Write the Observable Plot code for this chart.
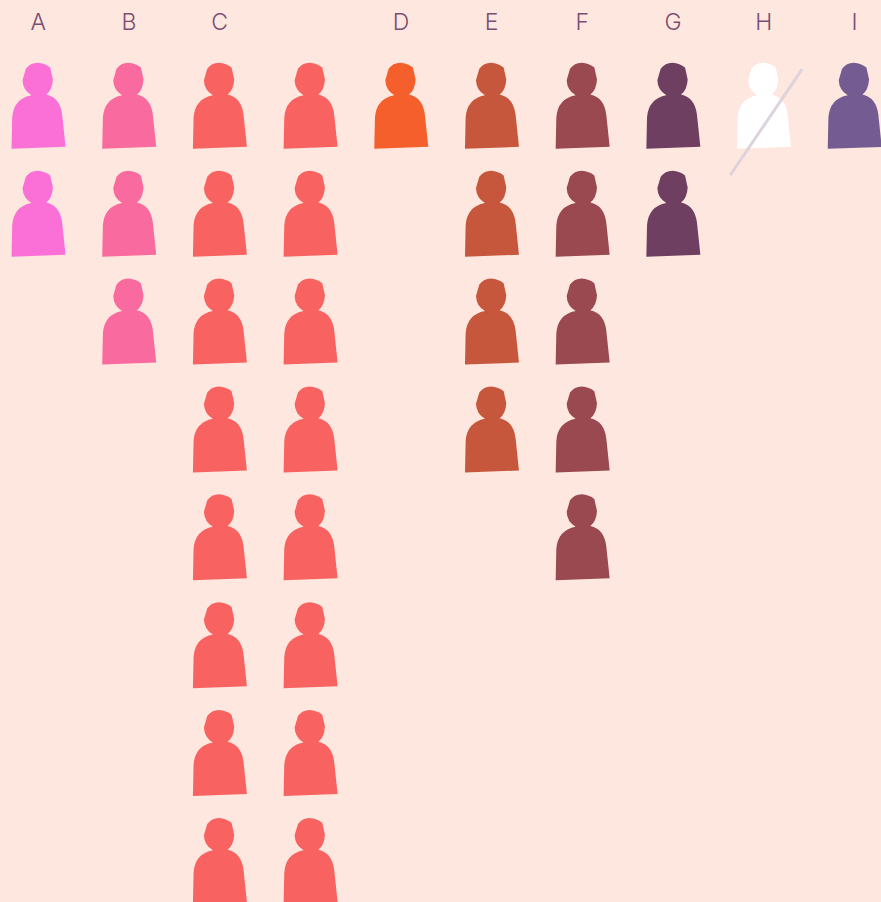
<!DOCTYPE html>
<html><head><meta charset="utf-8">
<style>html,body{margin:0;padding:0;background:#fee7df;overflow:hidden}svg{display:block}</style>
<script src="https://cdn.jsdelivr.net/npm/d3@7"></script>
<script src="https://cdn.jsdelivr.net/npm/@observablehq/plot@0.6"></script>
</head><body><div id="chart"></div>
<script>
const columns = ["A","B","C"," ","D","E","F","G","H","I"];
const counts  = [2,3,8,8,1,4,5,2,1,1];
const colors  = ["#fa70d6","#f96a9f","#f86361","#f86361","#f55f2c","#c7573c","#99494f","#6e3f61","#ffffff","#745b91"];
const crossed = ["H"];

const people = columns.flatMap((c,i)=>d3.range(counts[i]).map(row=>({column:c,row})));
const rows = d3.range(d3.max(counts));

const person = {draw(ctx){
  const p=(x,y)=>[(x-114)/3,(y-318)/3];
  const M=(x,y)=>ctx.moveTo(...p(x,y)), L=(x,y)=>ctx.lineTo(...p(x,y));
  const Q=(a,b,x,y)=>ctx.quadraticCurveTo(...p(a,b),...p(x,y));
  M(34,446);
  L(36,352);
  Q(40,295,94,285);
  Q(68,270,67,240);
  L(77,206);
  Q(90,188,112,188);
  Q(135,190,150,202);
  L(158,238);
  Q(156,270,138,283);
  Q(180,292,186,345);
  L(196,440);
  ctx.closePath();
}};
const slash = {draw(ctx){
  ctx.moveTo(-33.5,69);
  ctx.lineTo(38.5,-37);
}};

document.getElementById("chart").append(Plot.plot({
  width:881,height:902,
  marginTop:29,marginBottom:0,marginLeft:0,marginRight:0,
  style:{background:"#fee7df",overflow:"hidden"},
  x:{type:"point",domain:columns,range:[37.7,853.9],padding:0,round:false},
  y:{type:"point",domain:rows,range:[105.7,860.8],padding:0,round:false,axis:null},
  color:{type:"ordinal",domain:columns,range:colors},
  marks:[
    Plot.axisX({anchor:"top",tickSize:0,tickPadding:0,label:null,fontSize:23,fontFamily:"Inter",fontWeight:300,fill:"#7b4d72"}),
    Plot.dot(people,{x:"column",y:"row",symbol:person,fill:"column",stroke:"none",r:30}),
    Plot.dot(crossed,{x:d=>d,y:()=>0,symbol:slash,fill:"none",stroke:"#ded3dc",strokeWidth:3,r:30})
  ]
}));
</script></body></html>
